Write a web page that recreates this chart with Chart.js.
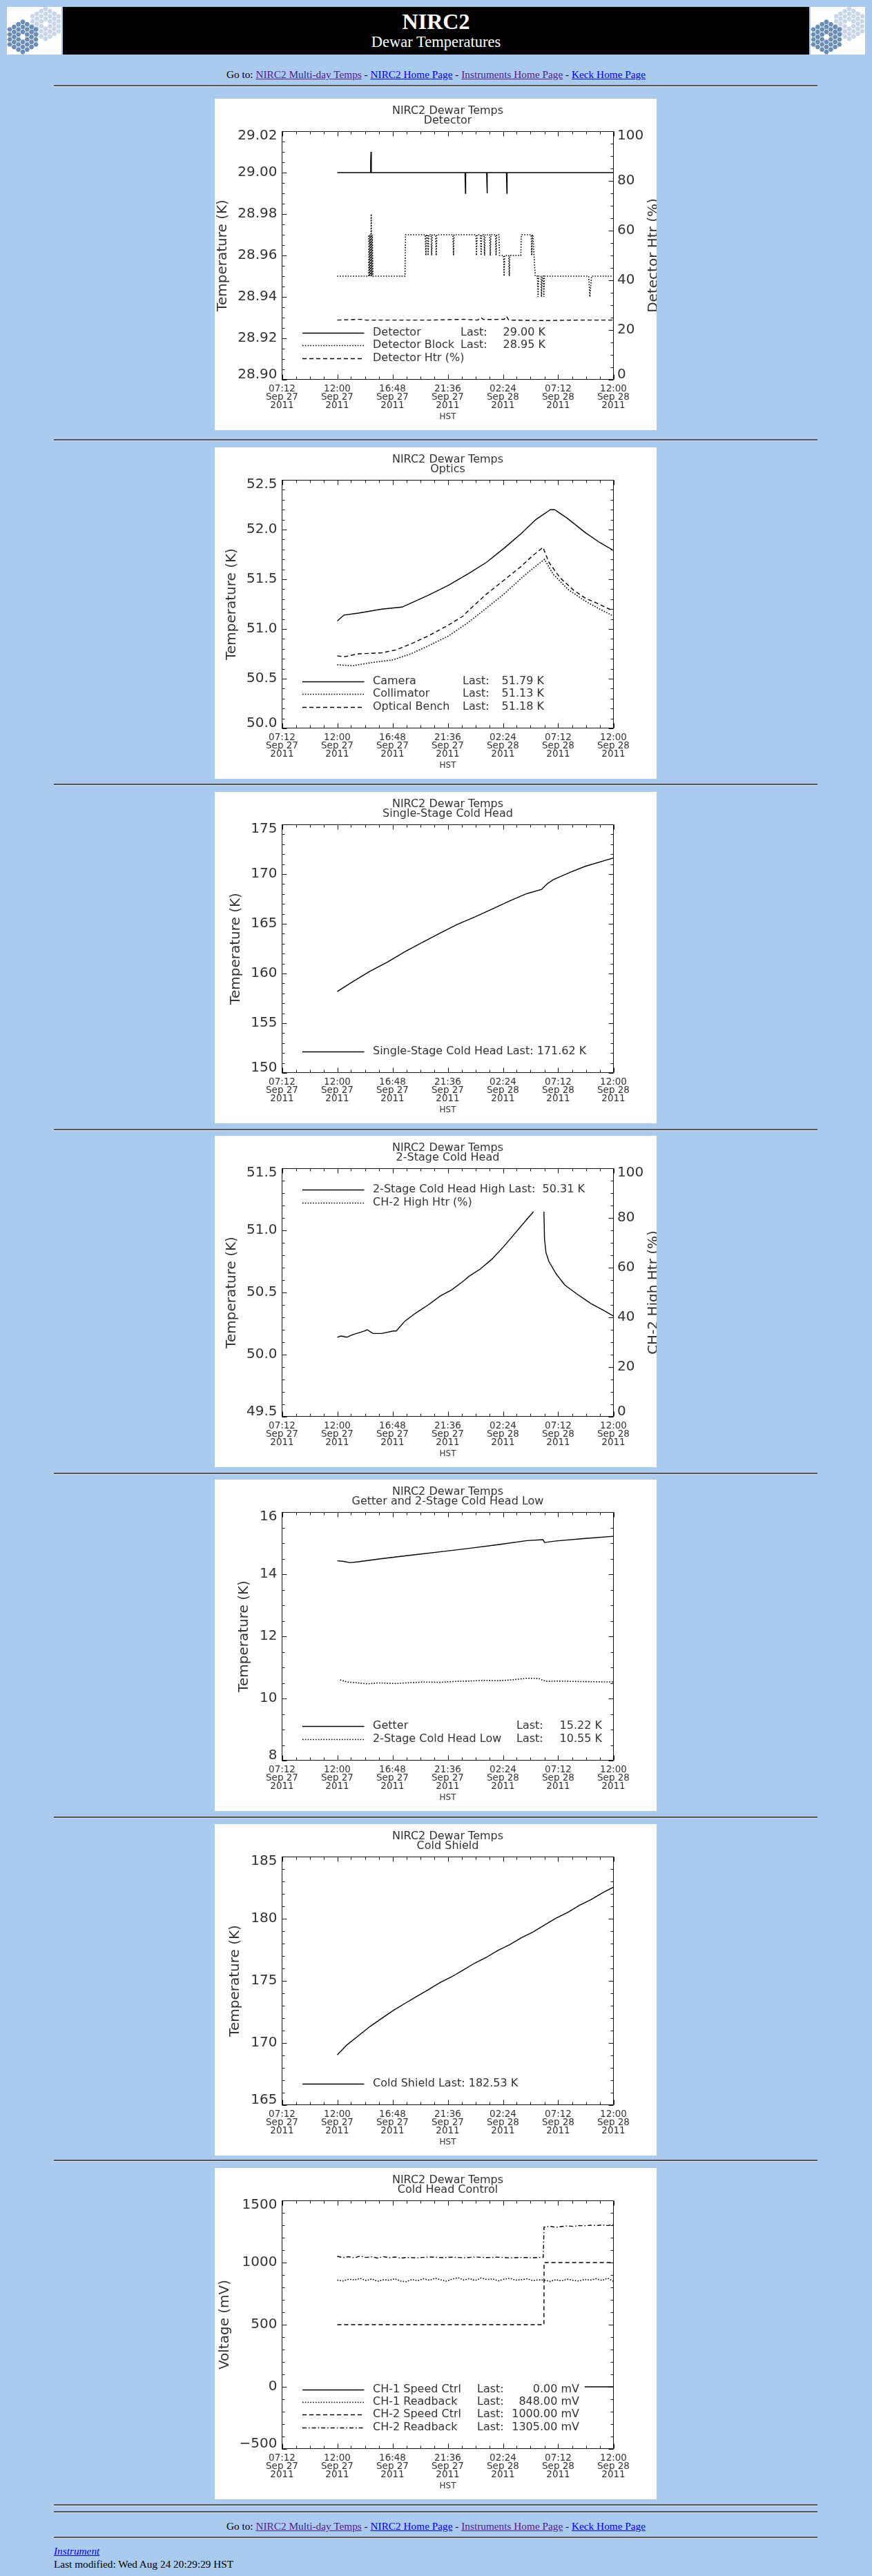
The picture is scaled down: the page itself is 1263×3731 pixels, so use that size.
<!DOCTYPE html>
<html><head><meta charset="utf-8">
<script src="https://cdn.jsdelivr.net/npm/chart.js@4.4.1/dist/chart.umd.min.js"></script>
<style>
html,body{margin:0;padding:0;background:#aacbee;width:1263px;height:3731px;overflow:hidden;font-family:"Liberation Serif","Times New Roman",serif;}
.logo{position:absolute;top:10px;width:79px;height:69px;background:#fff;}
.bar{position:absolute;left:91px;top:10px;width:1081px;height:69px;background:#000;color:#fff;}
.t1{position:absolute;left:0;top:3px;width:100%;text-align:center;font-weight:bold;font-size:32px;line-height:36px;}
.t2{position:absolute;left:0;top:38px;width:100%;text-align:center;font-size:22.5px;line-height:26px;}
.hr{position:absolute;left:78px;width:1106px;height:0;border-top:2px solid #555;border-bottom:1px solid #d6e2ee;}
.goto{position:absolute;left:0;width:1263px;text-align:center;font-size:15.3px;line-height:18px;color:#000;}
.foot{position:absolute;left:78px;font-size:15.3px;line-height:18px;color:#000;}
a{text-decoration:underline;}
a.v{color:#551a8b;} a.n{color:#0000ee;}
.panel{position:absolute;left:311px;width:640px;height:480px;background:#fff;}
canvas{display:block;}
</style></head>
<body>
<div class="logo" style="left:10px" id="logoL"></div>
<div class="bar"><div class="t1">NIRC2</div><div class="t2">Dewar Temperatures</div></div>
<div class="logo" style="left:1174px" id="logoR"></div>
<div class="goto" style="top:99px">Go to: <a class="v" href="#">NIRC2 Multi-day Temps</a> - <a class="n" href="#">NIRC2 Home Page</a> - <a class="v" href="#">Instruments Home Page</a> - <a class="n" href="#">Keck Home Page</a></div>
<div class="hr" style="top:123px"></div>

<div class="panel" style="top:143px"><canvas id="c1" width="640" height="480"></canvas></div>
<div class="hr" style="top:636px"></div>
<div class="panel" style="top:648px"><canvas id="c2" width="640" height="480"></canvas></div>
<div class="hr" style="top:1135px"></div>
<div class="panel" style="top:1147px"><canvas id="c3" width="640" height="480"></canvas></div>
<div class="hr" style="top:1635px"></div>
<div class="panel" style="top:1645px"><canvas id="c4" width="640" height="480"></canvas></div>
<div class="hr" style="top:2133px"></div>
<div class="panel" style="top:2143px"><canvas id="c5" width="640" height="480"></canvas></div>
<div class="hr" style="top:2631px"></div>
<div class="panel" style="top:2642px"><canvas id="c6" width="640" height="480"></canvas></div>
<div class="hr" style="top:3128px"></div>
<div class="panel" style="top:3140px"><canvas id="c7" width="640" height="480"></canvas></div>

<div class="hr" style="top:3627px"></div>
<div class="hr" style="top:3637px"></div>
<div class="goto" style="top:3650px">Go to: <a class="v" href="#">NIRC2 Multi-day Temps</a> - <a class="n" href="#">NIRC2 Home Page</a> - <a class="v" href="#">Instruments Home Page</a> - <a class="n" href="#">Keck Home Page</a></div>
<div class="hr" style="top:3674px"></div>
<div class="foot" style="top:3686px"><a class="n" href="#"><i>Instrument</i></a></div>
<div class="foot" style="top:3705px">Last modified: Wed Aug 24 20:29:29 HST</div>

<script>
// ================= DATA =================
// x axis: hours since 00:00 Sep 27 2011 (HST)
const xMinHour = 7.2, xMaxHour = 36, xStepHour = 4.8;
const xTickLabels = [
  ['07:12','Sep 27','2011'], ['12:00','Sep 27','2011'], ['16:48','Sep 27','2011'],
  ['21:36','Sep 27','2011'], ['02:24','Sep 28','2011'], ['07:12','Sep 28','2011'], ['12:00','Sep 28','2011']
];
const htrTickLabels = ['0','20','40','60','80','100'];

// --- Chart 1: Detector ---
const detTickLabels = ['28.90','28.92','28.94','28.96','28.98','29.00','29.02'];
const detector = [[12.0,29.00],[14.88,29.00],[14.9,29.005],[14.93,29.01],[14.96,29.00],
  [23.10,29.00],[23.12,28.995],[23.14,28.99],[23.16,29.00],
  [24.98,29.00],[25.00,28.995],[25.02,28.99],[25.04,29.00],
  [26.70,29.00],[26.72,28.995],[26.74,28.99],[26.76,29.00],[36.0,29.00]];
const detectorBlock = [[12.0,28.95],[14.73,28.95],[14.75,28.97],[14.8,28.95],[14.85,28.97],[14.9,28.95],[14.95,28.98],[15.0,28.95],[15.05,28.97],[15.1,28.95],
  [17.89,28.95],[17.93,28.97],[19.65,28.97],[19.7,28.96],[19.75,28.97],[19.85,28.97],[19.9,28.96],[19.95,28.97],[20.15,28.97],[20.2,28.96],[20.25,28.97],
  [20.55,28.97],[20.6,28.96],[20.65,28.97],[22.05,28.97],[22.1,28.96],[22.15,28.97],[24.05,28.97],[24.1,28.96],[24.15,28.97],[24.45,28.97],[24.5,28.96],[24.55,28.97],
  [24.75,28.97],[24.8,28.96],[24.85,28.97],[25.25,28.97],[25.3,28.96],[25.35,28.97],[25.75,28.97],[25.8,28.96],[25.85,28.97],[26.05,28.97],[26.1,28.96],
  [26.45,28.96],[26.5,28.95],[26.55,28.96],[26.9,28.96],[26.95,28.95],[27.0,28.96],[27.95,28.96],[28.0,28.97],[28.85,28.97],[28.9,28.96],[28.95,28.97],
  [29.0,28.97],[29.1,28.96],[29.2,28.95],[29.4,28.95],[29.45,28.94],[29.5,28.95],[29.7,28.95],[29.75,28.94],[29.8,28.95],[29.9,28.95],[29.95,28.94],[30.0,28.95],
  [33.85,28.95],[33.95,28.94],[34.1,28.95],[36.0,28.95]];
const detectorHtr = [[12.0,24.0],[14.0,24.3],[14.5,24.0],[20.0,24.0],[23.0,24.3],[24.2,24.0],[24.5,25.0],[24.7,24.2],[26.5,24.3],[26.7,25.5],[26.9,24.0],[30.0,23.8],[33.0,24.0],[36.0,24.0]];
const legend1Names = ['Detector','Detector Block','Detector Htr (%)'];
const legend1Last = ['29.00 K','28.95 K',''];

// --- Chart 2: Optics ---
const opticsTickLabels = ['50.0','50.5','51.0','51.5','52.0','52.5'];
const camera = [[12.0,51.08],[12.58,51.14],[13.84,51.16],[15.86,51.20],[17.63,51.22],[18.39,51.26],[19.91,51.34],[21.67,51.44],[23.44,51.56],[24.96,51.67],
  [26.47,51.81],[27.99,51.96],[29.25,52.10],[30.52,52.20],[30.89,52.20],[32.03,52.11],[33.55,51.97],[34.81,51.87],[36.0,51.79]];
const collimator = [[12.0,50.64],[13.34,50.63],[14.85,50.66],[16.87,50.69],[18.39,50.75],[19.91,50.83],[21.67,50.93],[23.44,51.07],[24.96,51.21],[26.47,51.35],
  [27.99,51.51],[29.0,51.61],[30.01,51.70],[30.77,51.55],[32.03,51.40],[33.55,51.28],[34.81,51.20],[36.0,51.13]];
const opticalBench = [[12.0,50.73],[12.58,50.72],[13.84,50.75],[15.86,50.76],[17.13,50.79],[18.39,50.85],[19.91,50.93],[21.67,51.04],[22.94,51.13],[23.44,51.19],
  [24.96,51.35],[26.47,51.49],[27.99,51.63],[29.0,51.74],[29.88,51.82],[30.39,51.67],[31.4,51.51],[32.54,51.39],[33.55,51.31],[34.56,51.26],[36.0,51.18]];
const legend2Names = ['Camera','Collimator','Optical Bench'];
const legend2Last = ['51.79 K','51.13 K','51.18 K'];

// --- Chart 3: Single-Stage Cold Head ---
const ssTickLabels = ['150','155','160','165','170','175'];
const singleStage = [[12.0,158.19],[13.34,159.18],[14.85,160.23],[16.37,161.15],[17.88,162.20],[19.4,163.13],[20.92,164.05],[22.43,164.94],[23.95,165.68],
  [25.46,166.49],[26.98,167.30],[28.49,168.04],[29.76,168.46],[30.26,169.04],[30.77,169.43],[32.28,170.20],[33.55,170.78],[36.0,171.62]];
const legend3Names = ['Single-Stage Cold Head'];
const legend3Last = ['171.62 K'];

// --- Chart 4: 2-Stage Cold Head ---
const tsTickLabels = ['49.5','50.0','50.5','51.0','51.5'];
const twoStageHigh = [[12.0,50.14],[12.33,50.15],[12.83,50.14],[13.34,50.16],[14.35,50.19],[14.6,50.20],[15.11,50.17],[15.86,50.17],[16.87,50.19],[17.13,50.19],
  [17.88,50.27],[18.9,50.34],[19.91,50.40],[20.92,50.47],[21.93,50.52],[22.94,50.59],[23.44,50.63],[24.45,50.69],[25.46,50.77],[26.47,50.87],[27.48,50.98],
  [28.49,51.09],[29.05,51.15],[29.5,null],[29.96,51.15],[30.01,50.93],[30.14,50.82],[30.39,50.75],[31.02,50.65],[31.78,50.56],[32.79,50.49],[34.05,50.41],
  [35.06,50.36],[36.0,50.31]];
const ch2HighHtr = [[12.0,0],[36.0,0]];
const legend4Names = ['2-Stage Cold Head High','CH-2 High Htr (%)'];
const legend4Last = [' 50.31 K',''];

// --- Chart 5: Getter and 2-Stage Cold Head Low ---
const getterTickLabels = ['8','10','12','14','16'];
const getter = [[12.0,14.43],[12.58,14.41],[13.09,14.37],[13.84,14.40],[15.86,14.50],[18.39,14.61],[20.92,14.72],[23.44,14.83],[25.97,14.95],[28.49,15.08],
  [29.88,15.11],[30.01,15.02],[31.02,15.07],[33.55,15.15],[36.0,15.22]];
const twoStageLow = [[12.25,10.60],[12.83,10.53],[13.6,10.51],[14.6,10.47],[15.6,10.50],[17.13,10.48],[18.4,10.51],[19.65,10.53],[21.0,10.52],[22.18,10.55],
  [23.5,10.56],[24.71,10.58],[26.0,10.57],[27.23,10.60],[28.49,10.65],[29.5,10.64],[30.14,10.55],[31.2,10.56],[32.28,10.55],[34.0,10.54],[36.0,10.53]];
const legend5Names = ['Getter','2-Stage Cold Head Low'];
const legend5Last = ['15.22 K','10.55 K'];

// --- Chart 6: Cold Shield ---
const csTickLabels = ['165','170','175','180','185'];
const coldShield = [[12.0,169.04],[12.83,169.84],[13.84,170.58],[14.85,171.33],[15.86,171.98],[16.87,172.62],[17.88,173.18],[18.9,173.74],[19.91,174.29],
  [20.92,174.85],[21.93,175.32],[22.94,175.87],[23.95,176.43],[24.96,176.89],[25.97,177.45],[26.98,177.91],[27.99,178.47],[29.0,178.93],[30.01,179.49],
  [31.02,180.05],[32.03,180.51],[33.04,181.07],[34.05,181.53],[35.06,182.09],[36.0,182.53]];
const legend6Names = ['Cold Shield'];
const legend6Last = ['182.53 K'];

// --- Chart 7: Cold Head Control ---
const chcTickLabels = ['\u2212500','0','500','1000','1500'];
const ch1SpeedCtrl = [[33.5,0],[36.0,0]];
const ch1Readback = [[12.0,858],[12.5,852],[13.0,866],[13.5,860],[14.0,872],[14.5,855],[15.0,868],[15.5,849],[16.0,862],[16.5,857],[17.0,870],[17.5,851],
  [18.0,846],[18.5,864],[19.0,853],[19.5,869],[20.0,858],[20.5,874],[21.0,861],[21.5,850],[22.0,867],[22.5,879],[23.0,859],[23.5,871],[24.0,856],[24.5,876],
  [25.0,863],[25.5,868],[26.0,852],[26.5,866],[27.0,874],[27.5,858],[28.0,862],[28.5,869],[29.0,855],[29.5,861],[30.0,858],[30.5,848],[31.0,862],[31.5,853],
  [32.0,866],[32.5,857],[33.0,851],[33.5,864],[34.0,859],[34.5,870],[35.0,856],[35.5,874],[36.0,848]];
const ch2SpeedCtrl = [[12.0,500],[29.96,500],[29.97,1000],[36.0,1000]];
const ch2Readback = [[12.0,1050],[12.5,1040],[13.0,1047],[13.5,1038],[14.0,1052],[14.5,1041],[15.0,1046],[15.5,1036],[16.0,1048],[16.5,1039],[17.0,1044],
  [17.5,1035],[18.0,1041],[19.0,1038],[20.0,1045],[21.0,1040],[22.0,1043],[23.0,1039],[24.0,1044],[25.0,1040],[26.0,1043],[27.0,1038],[28.0,1041],[29.0,1039],
  [29.9,1042],[29.97,1285],[30.5,1292],[31.0,1283],[31.5,1290],[32.0,1295],[32.5,1291],[33.0,1298],[33.5,1296],[34.0,1300],[34.5,1297],[35.0,1302],[35.5,1298],[36.0,1305]];
const legend7Names = ['CH-1 Speed Ctrl','CH-1 Readback','CH-2 Speed Ctrl','CH-2 Readback'];
const legend7Last = ['0.00 mV','848.00 mV','1000.00 mV','1305.00 mV'];

// ================= RENDERING =================
const FAM = '"DejaVu Sans", sans-serif';
const INK = '#333';
const SOLID = [], DOT = [1.6, 2.2], DASH = [6, 4], DASHDOT = [6, 3, 1.6, 3];

function logoSvg() {
  const s = 4.2, r = 3.7;
  let out = '<svg xmlns="http://www.w3.org/2000/svg" width="79" height="69">';
  const mirror = (cx, cy, fill) => {
    for (let q = -3; q <= 3; q++) for (let k = -3; k <= 3; k++) {
      if (Math.abs(q + k) > 3 || (q === 0 && k === 0)) continue;
      const x = cx + 1.5 * s * q, y = cy + Math.sqrt(3) * s * (k + q / 2);
      const pts = [];
      for (let j = 0; j < 6; j++) { const an = Math.PI / 3 * j; pts.push((x + r * Math.cos(an)).toFixed(2) + ',' + (y + r * Math.sin(an)).toFixed(2)); }
      out += '<polygon points="' + pts.join(' ') + '" fill="' + fill + '"/>';
    }
  };
  mirror(56, 24.5, '#c8d6e7');
  mirror(23, 43.5, '#6a8db8');
  return out + '</svg>';
}
document.getElementById('logoL').innerHTML = logoSvg();
document.getElementById('logoR').innerHTML = logoSvg();

const idlPlugin = {
  id: 'idl',
  beforeDraw(chart) {
    const c = chart.ctx; c.save(); c.fillStyle = '#fff'; c.fillRect(0, 0, chart.width, chart.height); c.restore();
  },
  afterDatasetsDraw(chart, args, o) {
    const ctx = chart.ctx, a = chart.chartArea;
    const xs = chart.scales.x, ys = chart.scales.y, y2 = chart.scales.y2;
    const L = Math.floor(a.left) + 0.5, R = Math.floor(a.right) + 0.5, T = Math.floor(a.top) + 0.5, B = Math.floor(a.bottom) - 0.5;
    ctx.save();
    ctx.setLineDash([]);
    ctx.strokeStyle = '#111'; ctx.lineWidth = 1;
    ctx.strokeRect(L, T, R - L, B - T);
    const MAJ = 7, MIN = 4;
    const vals = s => s.ticks.map(t => t.value);
    const minors = (s, n) => { const v = vals(s), out = []; for (let i = 0; i < v.length - 1; i++) { const d = (v[i + 1] - v[i]) / n; for (let j = 1; j < n; j++) out.push(v[i] + d * j); } return out; };
    ctx.beginPath();
    const xt = (v, len) => { const p = Math.round(xs.getPixelForValue(v)) + 0.5; ctx.moveTo(p, B); ctx.lineTo(p, B - len); ctx.moveTo(p, T); ctx.lineTo(p, T + len); };
    vals(xs).forEach(v => xt(v, MAJ)); minors(xs, o.xMinor).forEach(v => xt(v, MIN));
    const yl = (s, v, len) => { const p = Math.round(s.getPixelForValue(v)) + 0.5; ctx.moveTo(L, p); ctx.lineTo(L + len, p); };
    const yr = (s, v, len) => { const p = Math.round(s.getPixelForValue(v)) + 0.5; ctx.moveTo(R, p); ctx.lineTo(R - len, p); };
    vals(ys).forEach(v => yl(ys, v, MAJ)); minors(ys, o.yMinor).forEach(v => yl(ys, v, MIN));
    const rs = y2 || ys, rn = y2 ? o.y2Minor : o.yMinor;
    vals(rs).forEach(v => yr(rs, v, MAJ)); minors(rs, rn).forEach(v => yr(rs, v, MIN));
    ctx.stroke();

    // y tick labels (IDL style: end labels kept inside the axis range)
    ctx.fillStyle = INK; ctx.font = '20px ' + FAM; ctx.textBaseline = 'middle';
    const clampY = p => Math.min(Math.max(p, a.top + 7), a.bottom - 7);
    ctx.textAlign = 'right';
    ys.ticks.forEach(t => ctx.fillText(t.label, a.left - 7, clampY(ys.getPixelForValue(t.value))));
    if (y2) { ctx.textAlign = 'left'; y2.ticks.forEach(t => ctx.fillText(t.label, a.right + 5.5, clampY(y2.getPixelForValue(t.value)))); }

    // titles
    const cx = (a.left + a.right) / 2;
    ctx.textAlign = 'center'; ctx.font = '16px ' + FAM;
    o.title.forEach((s, i) => ctx.fillText(s, cx, 17.5 + i * 14.5));
    ctx.font = '12px ' + FAM; ctx.fillText(o.xTitle, cx, 461);
    ctx.font = '20px ' + FAM;
    const cy = (a.top + a.bottom) / 2;
    const vt = (s, x) => { ctx.save(); ctx.translate(x, cy); ctx.rotate(-Math.PI / 2); ctx.fillText(s, 0, 0); ctx.restore(); };
    vt(o.yTitle, o.yTitleX);
    if (o.y2Title) vt(o.y2Title, o.y2TitleX);

    // legend
    const lg = o.legend, n = lg.names.length, gap = 18.3;
    const y0 = lg.top != null ? lg.top : 375.5 - (n - 1) * gap;
    ctx.font = '16px ' + FAM; ctx.textBaseline = 'middle';
    lg.names.forEach((name, i) => {
      const y = y0 + i * gap, ds = chart.data.datasets[i];
      ctx.save(); ctx.strokeStyle = ds.borderColor; ctx.lineWidth = ds.borderWidth; ctx.setLineDash(ds.borderDash || []);
      ctx.beginPath(); const py = Math.round(y) + 0.5; ctx.moveTo(127, py); ctx.lineTo(216.5, py); ctx.stroke(); ctx.restore();
      ctx.fillStyle = INK; ctx.textAlign = 'left';
      const last = lg.last[i];
      if (lg.lastX != null) {
        ctx.fillText(name, 229, y);
        if (last) { ctx.fillText('Last:', lg.lastX, y); ctx.textAlign = 'right'; ctx.fillText(last, lg.valX, y); }
      } else {
        ctx.fillText(last ? name + ' Last: ' + last : name, 229, y);
      }
    });
    ctx.restore();
  }
};

function pts(arr) { return arr.map(p => ({ x: p[0], y: p[1] })); }
function ds(label, arr, dash, axis) {
  return { label, data: pts(arr), borderColor: '#000', borderWidth: dash === DOT ? 1.6 : 1.4, borderDash: dash, pointRadius: 0, tension: 0, fill: false, spanGaps: false, yAxisID: axis || 'y' };
}
function yScale(min, max, step, labels, pos) {
  return { type: 'linear', position: pos, min, max,
    ticks: { stepSize: step, display: false, callback: (v, i) => labels[i] },
    grid: { display: false, drawTicks: false }, border: { display: false },
    afterFit: s => { s.width = pos === 'left' ? 97.5 : 62.5; } };
}
function makeChart(id, datasets, yCfg, y2Cfg, idl) {
  const scales = {
    x: { type: 'linear', position: 'bottom', min: xMinHour, max: xMaxHour,
      ticks: { stepSize: xStepHour, autoSkip: false, maxRotation: 0, minRotation: 0, padding: 7.5, color: INK,
        font: { family: FAM, size: 13.5, lineHeight: 0.9 }, callback: (v, i) => xTickLabels[i] },
      grid: { display: false, drawTicks: false }, border: { display: false },
      afterFit: s => { s.height = 73; } },
    y: yScale(yCfg[0], yCfg[1], yCfg[2], yCfg[3], 'left')
  };
  if (y2Cfg) scales.y2 = yScale(y2Cfg[0], y2Cfg[1], y2Cfg[2], y2Cfg[3], 'right');
  return new Chart(document.getElementById(id), {
    type: 'line',
    data: { datasets },
    options: {
      responsive: false, animation: false, devicePixelRatio: 1, events: [],
      layout: { padding: { top: 47, left: 0, bottom: 0, right: y2Cfg ? 0 : 62.5 } },
      scales,
      plugins: { legend: { display: false }, title: { display: false }, tooltip: { enabled: false },
        idl: Object.assign({ xMinor: 4, xTitle: 'HST' }, idl) }
    },
    plugins: [idlPlugin]
  });
}

makeChart('c1',
  [ds('Detector', detector, SOLID), ds('Detector Block', detectorBlock, DOT), ds('Detector Htr (%)', detectorHtr, DASH, 'y2')],
  [28.90, 29.02, 0.02, detTickLabels], [0, 100, 20, htrTickLabels],
  { title: ['NIRC2 Dewar Temps', 'Detector'], yTitle: 'Temperature (K)', yTitleX: 11.6, y2Title: 'Detector Htr (%)', y2TitleX: 636,
    yMinor: 4, y2Minor: 4, legend: { names: legend1Names, last: legend1Last, lastX: 356, valX: 479 } });

makeChart('c2',
  [ds('Camera', camera, SOLID), ds('Collimator', collimator, DOT), ds('Optical Bench', opticalBench, DASH)],
  [50.0, 52.5, 0.5, opticsTickLabels], null,
  { title: ['NIRC2 Dewar Temps', 'Optics'], yTitle: 'Temperature (K)', yTitleX: 24.6,
    yMinor: 5, legend: { names: legend2Names, last: legend2Last, lastX: 359, valX: 477 } });

makeChart('c3',
  [ds('Single-Stage Cold Head', singleStage, SOLID)],
  [150, 175, 5, ssTickLabels], null,
  { title: ['NIRC2 Dewar Temps', 'Single-Stage Cold Head'], yTitle: 'Temperature (K)', yTitleX: 30.5,
    yMinor: 5, legend: { names: legend3Names, last: legend3Last } });

makeChart('c4',
  [ds('2-Stage Cold Head High', twoStageHigh, SOLID), ds('CH-2 High Htr (%)', ch2HighHtr, DOT, 'y2')],
  [49.5, 51.5, 0.5, tsTickLabels], [0, 100, 20, htrTickLabels],
  { title: ['NIRC2 Dewar Temps', '2-Stage Cold Head'], yTitle: 'Temperature (K)', yTitleX: 24.6, y2Title: 'CH-2 High Htr (%)', y2TitleX: 636,
    yMinor: 5, y2Minor: 4, legend: { names: legend4Names, last: legend4Last, top: 78.3 } });

makeChart('c5',
  [ds('Getter', getter, SOLID), ds('2-Stage Cold Head Low', twoStageLow, DOT)],
  [8, 16, 2, getterTickLabels], null,
  { title: ['NIRC2 Dewar Temps', 'Getter and 2-Stage Cold Head Low'], yTitle: 'Temperature (K)', yTitleX: 43,
    yMinor: 4, legend: { names: legend5Names, last: legend5Last, lastX: 437, valX: 561 } });

makeChart('c6',
  [ds('Cold Shield', coldShield, SOLID)],
  [165, 185, 5, csTickLabels], null,
  { title: ['NIRC2 Dewar Temps', 'Cold Shield'], yTitle: 'Temperature (K)', yTitleX: 30,
    yMinor: 5, legend: { names: legend6Names, last: legend6Last } });

makeChart('c7',
  [ds('CH-1 Speed Ctrl', ch1SpeedCtrl, SOLID), ds('CH-1 Readback', ch1Readback, DOT), ds('CH-2 Speed Ctrl', ch2SpeedCtrl, DASH), ds('CH-2 Readback', ch2Readback, DASHDOT)],
  [-500, 1500, 500, chcTickLabels], null,
  { title: ['NIRC2 Dewar Temps', 'Cold Head Control'], yTitle: 'Voltage (mV)', yTitleX: 14.3,
    yMinor: 5, legend: { names: legend7Names, last: legend7Last, lastX: 380, valX: 528 } });
</script>
</body></html>
